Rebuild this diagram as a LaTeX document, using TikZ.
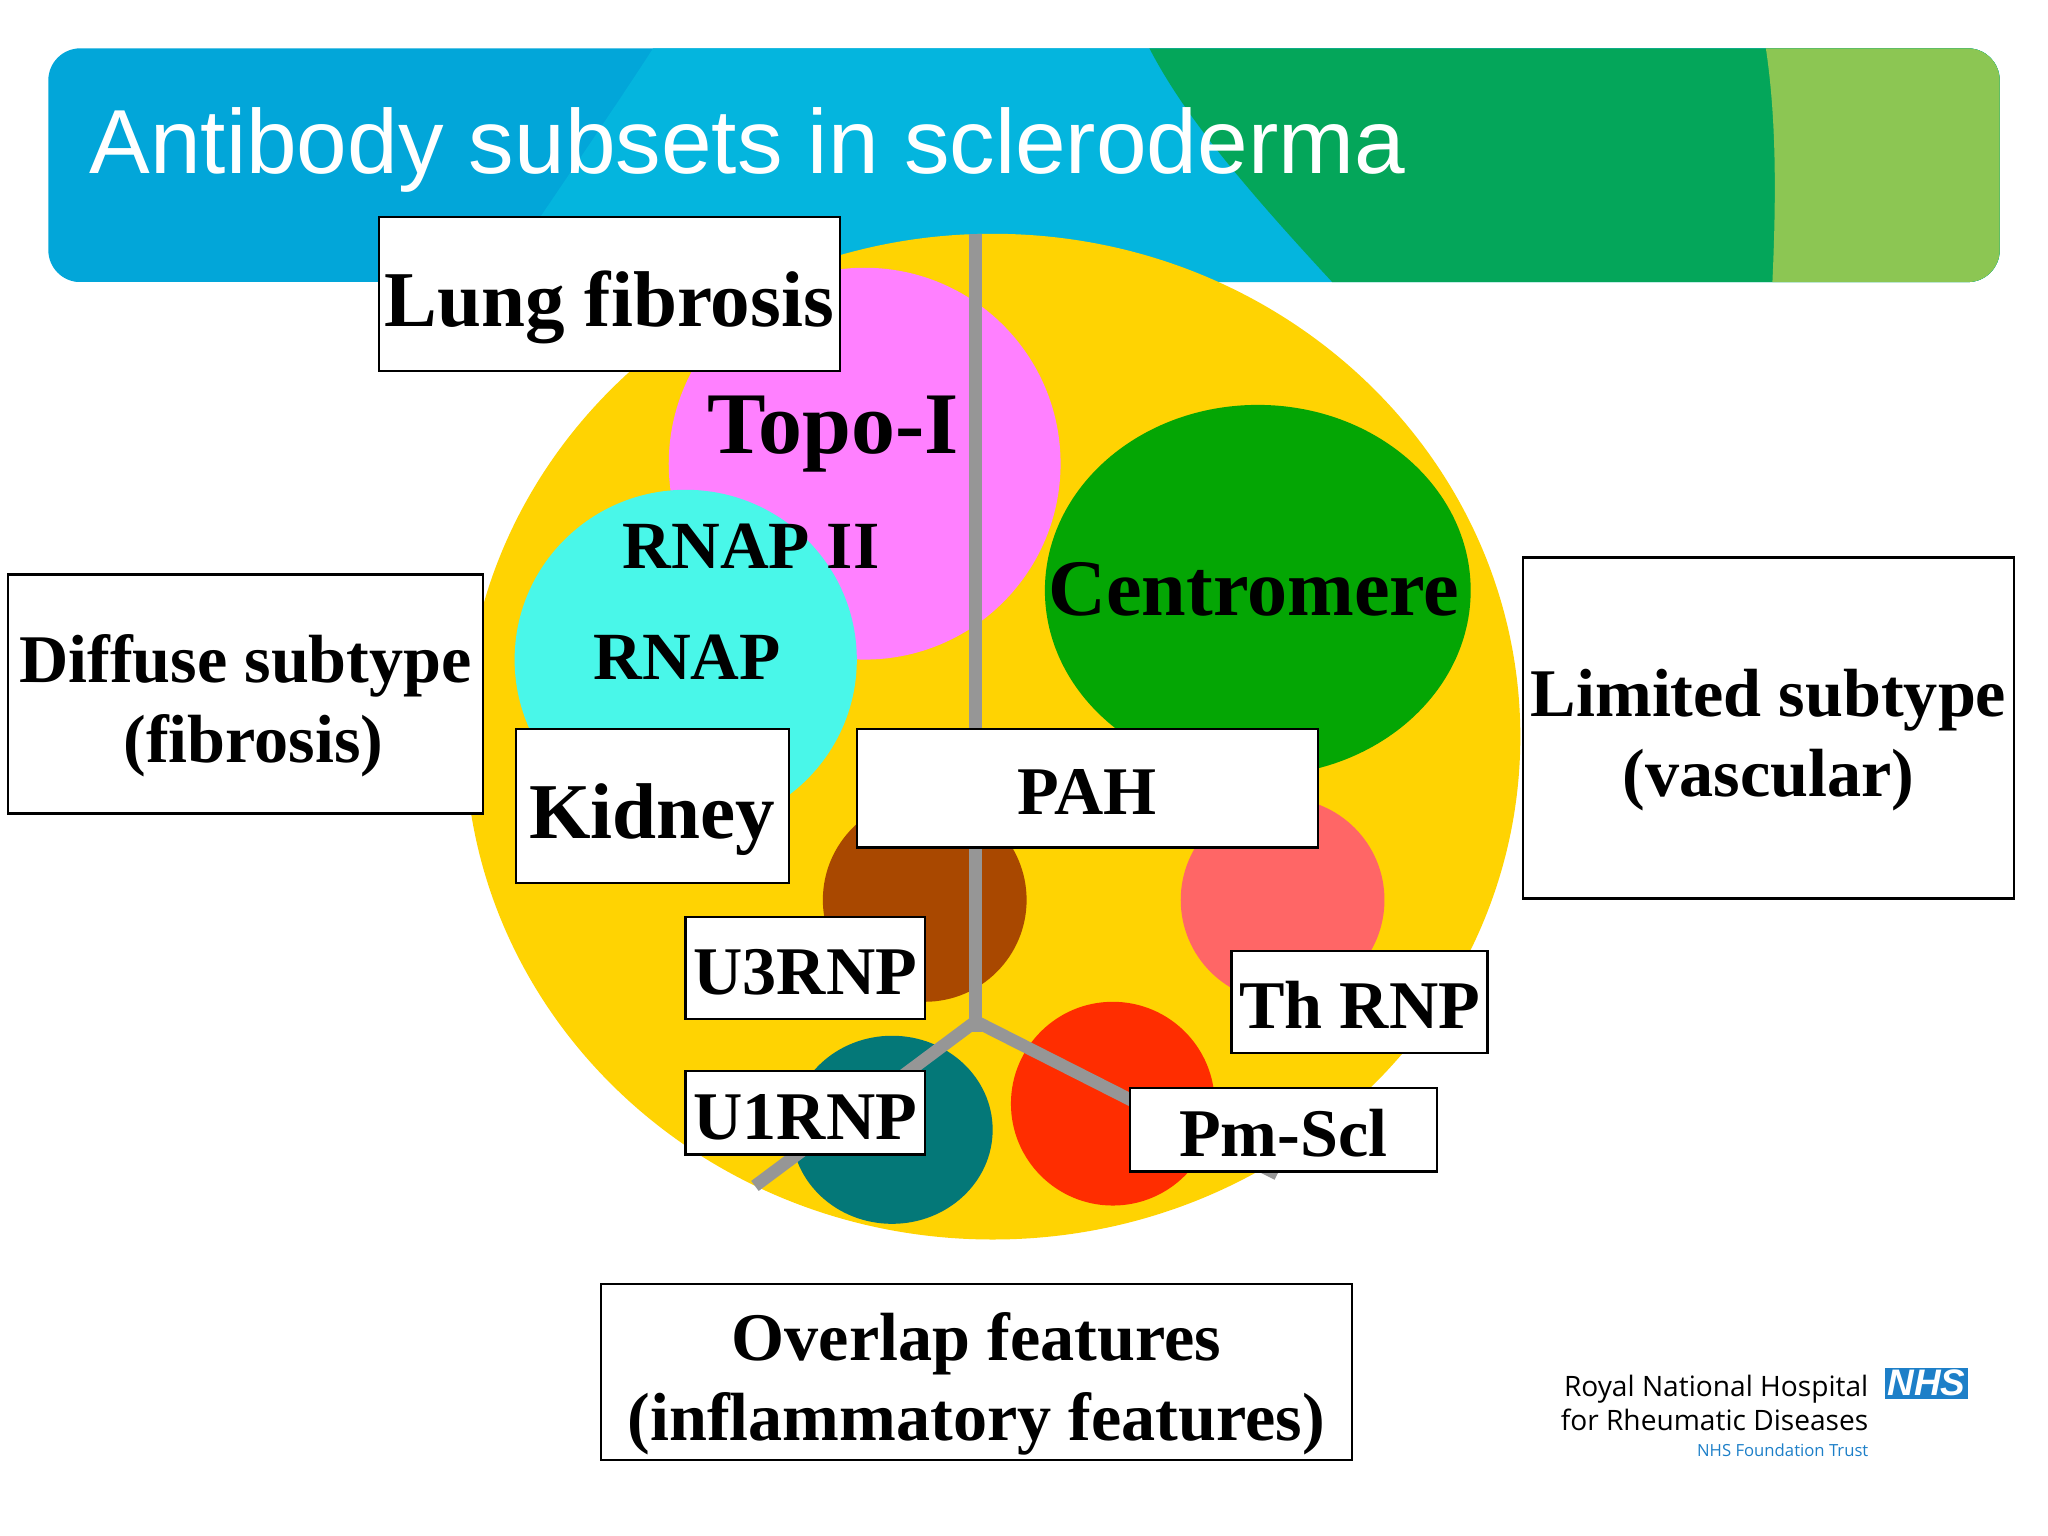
\documentclass[tikz,border=0pt]{standalone}
\usepackage{fontspec}
\setmainfont{Liberation Serif}
\newfontfamily\TitleFont{Liberation Sans}
\newfontfamily\LogoFont{Open Sans}
\newcommand{\Unit}{0.0130612cm}
\definecolor{BannerBlue}{HTML}{02A6D9}
\definecolor{BannerCyan}{HTML}{04B5DE}
\definecolor{BannerGreen}{HTML}{04A65A}
\definecolor{BannerLime}{HTML}{8CC653}
\definecolor{Yolk}{HTML}{FFD302}
\definecolor{TopoPink}{HTML}{FF80FF}
\definecolor{RnapCyan}{HTML}{49F7E9}
\definecolor{CentroGreen}{HTML}{04A604}
\definecolor{UthreeBrown}{HTML}{A94800}
\definecolor{ThSalmon}{HTML}{FF6666}
\definecolor{UoneTeal}{HTML}{047878}
\definecolor{PmRed}{HTML}{FF2D00}
\definecolor{SpineGrey}{HTML}{969696}
\definecolor{NhsBlue}{HTML}{1D7FC8}
\tikzset{WhiteBox/.style={
    inner sep=0pt,
    draw=black,
    line width=0.7pt,
    fill=white,
    align=center,
    text height=15pt,
    text depth=0pt,
    font=\bfseries\fontsize{19.4pt}{22.8pt}\selectfont
    }
}
\tikzset{BigBox/.style={
    WhiteBox,
    text height=18.4pt,
    font=\bfseries\fontsize{22.5pt}{26pt}\selectfont
    }
}
\tikzset{TwoLineBox/.style={
    inner sep=0pt,
    draw=black,
    line width=0.7pt,
    fill=white,
    align=center,
    text height=43.2pt,
    font=\bfseries\fontsize{19.4pt}{22.8pt}\selectfont
    }
}
\tikzset{Blob/.style={
    inner sep=0pt,
    font=\bfseries\fontsize{19.2pt}{22.8pt}\selectfont
    }
}
\tikzset{Spine/.style={
    draw=SpineGrey,
    line width=0.125cm
    }
}
\begin{document}
\begin{tikzpicture}[x=\Unit,y=-\Unit]
    \useasboundingbox (0,0) rectangle (1568,1176);

    % banner
    \begin{scope}
    \clip[rounded corners=0.32cm] (37,37) rectangle (1531,216);
    \fill[BannerBlue] (37,37) rectangle (1531,216);
    \fill[BannerCyan] (500,37) .. controls (475,76) and (415,164) .. (380,216) -- (1531,216) -- (1531,37) -- cycle;
    \fill[BannerGreen] (880,37) .. controls (905,85) and (945,135) .. (1020,216) -- (1531,216) -- (1531,37) -- cycle;
    \fill[BannerLime] (1352,37) .. controls (1360,90) and (1360,150) .. (1357,216) -- (1531,216) -- (1531,37) -- cycle;
    \end{scope}
    \node (title) [anchor=base west, inner sep=0pt, text=white, font=\TitleFont\fontsize{25.9pt}{30pt}\selectfont] at (68,133) {Antibody subsets in scleroderma};

    % discs
    \fill[Yolk] (760,564) ellipse [x radius=404, y radius=385];
    \fill[TopoPink] (662,355) ellipse [x radius=150, y radius=150];
    \fill[RnapCyan] (525,505) ellipse [x radius=131, y radius=130];
    \fill[CentroGreen] (963,452) ellipse [x radius=163, y radius=142];
    \fill[UthreeBrown] (708,689) ellipse [x radius=78, y radius=78];
    \fill[ThSalmon] (982,689) ellipse [x radius=78, y radius=78];
    \fill[UoneTeal] (683,865) ellipse [x radius=77, y radius=72];
    \fill[PmRed] (852,845) ellipse [x radius=78, y radius=78];

    % dividing lines
    \coordinate (top) at (747,179);
    \coordinate (stub) at (747,790);
    \coordinate (hub) at (747,782);
    \coordinate (endL) at (578,908);
    \coordinate (endR) at (978,899);
    \draw[Spine] (top) -- (stub);
    \draw[Spine] (hub) -- (endL);
    \draw[Spine] (hub) -- (endR);

    % names on the discs
    \node (topo) [Blob, font=\bfseries\fontsize{25pt}{26pt}\selectfont] at (638,332) {Topo-I};
    \node (rnapii) [Blob] at (575,418) {RNAP II};
    \node (rnap) [Blob] at (526,503) {RNAP};
    \node (centro) [Blob, font=\bfseries\fontsize{22.8pt}{26pt}\selectfont] at (960,451) {Centromere};

    % boxes
    \node (lung) [BigBox, minimum width=353*\Unit, minimum height=118*\Unit] at (466.5,225) {Lung fibrosis};
    \node (diffuse) [TwoLineBox, minimum width=364*\Unit, minimum height=183*\Unit] at (188,531.5) {Diffuse subtype\\\hspace*{0.16cm}(fibrosis)};
    \node (kidney) [BigBox, minimum width=209*\Unit, minimum height=118*\Unit] at (499.5,617) {Kidney};
    \node (pah) [WhiteBox, minimum width=353*\Unit, minimum height=91*\Unit] at (832.5,603.5) {PAH};
    \node (uthree) [WhiteBox, minimum width=183*\Unit, minimum height=78*\Unit] at (616.5,741) {U3RNP};
    \node (uone) [WhiteBox, minimum width=183*\Unit, minimum height=64*\Unit] at (616.5,852) {U1RNP};
    \node (th) [WhiteBox, minimum width=196*\Unit, minimum height=78*\Unit] at (1041,767) {Th RNP};
    \node (pm) [WhiteBox, minimum width=235*\Unit, minimum height=64*\Unit] at (982.5,865) {Pm-Scl};
    \node (limited) [TwoLineBox, minimum width=376*\Unit, minimum height=261*\Unit] at (1354,557.5) {Limited subtype\\(vascular)};
    \node (overlap) [TwoLineBox, minimum width=575*\Unit, minimum height=135*\Unit] at (747.5,1050.5) {Overlap features\\(inflammatory features)};

    % logo
    \node (hospital) [anchor=base east, inner sep=0pt, font=\LogoFont\fontsize{8pt}{10pt}\selectfont] at (1431,1069) {Royal National Hospital};
    \node (rheum) [anchor=base east, inner sep=0pt, font=\LogoFont\fontsize{8pt}{10pt}\selectfont] at (1431,1095) {for Rheumatic Diseases};
    \node (trust) [anchor=base east, inner sep=0pt, text=NhsBlue, font=\LogoFont\fontsize{4.75pt}{6pt}\selectfont] at (1431,1115) {NHS Foundation Trust};
    \node (nhs) [fill=NhsBlue, text=white, inner sep=0pt, minimum width=64*\Unit, minimum height=24*\Unit, font=\TitleFont\bfseries\itshape\fontsize{10.5pt}{11pt}\selectfont] at (1475,1059) {NHS};
\end{tikzpicture}
\end{document}
